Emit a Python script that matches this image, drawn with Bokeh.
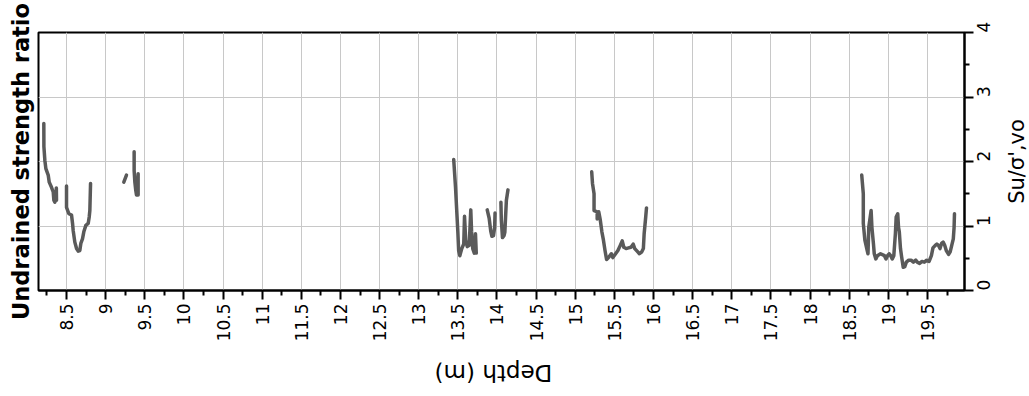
import math
from bokeh.plotting import figure
from bokeh.layouts import column, row
from bokeh.models import Range1d, FixedTicker, CustomJSTickFormatter
from bokeh.core.properties import value
from bokeh.embed import file_html
from bokeh.resources import INLINE

# ---------------- data ----------------
seg1_depth = [8.210, 8.211, 8.223, 8.236, 8.266, 8.279, 8.308, 8.330, 8.338, 8.351, 8.364, 8.370, 8.372]
seg1_su = [2.59, 2.23, 2.02, 1.89, 1.79, 1.68, 1.60, 1.53, 1.40, 1.37, 1.44, 1.59, 1.40]

seg2_depth = [8.500, 8.500, 8.530, 8.564, 8.577, 8.585, 8.606, 8.628, 8.649, 8.670, 8.683,
              8.704, 8.721, 8.747, 8.777, 8.790, 8.798, 8.807]
seg2_su = [1.62, 1.29, 1.19, 1.17, 1.04, 0.93, 0.75, 0.65, 0.61, 0.62, 0.73,
           0.80, 0.91, 1.01, 1.04, 1.14, 1.24, 1.66]

seg3_depth = [9.232, 9.266]
seg3_su = [1.68, 1.79]

seg4_depth = [9.364, 9.364, 9.373, 9.385, 9.394, 9.407, 9.415, 9.415]
seg4_su = [2.15, 1.86, 1.68, 1.55, 1.48, 1.55, 1.81, 1.48]

seg5_depth = [13.447, 13.470, 13.485, 13.500, 13.510, 13.525, 13.550, 13.575, 13.585, 13.600,
              13.620, 13.645, 13.665, 13.675, 13.690, 13.710, 13.720, 13.725, 13.735]
seg5_su = [2.03, 1.60, 1.25, 0.90, 0.62, 0.54, 0.65, 0.72, 1.15, 0.78,
           0.68, 0.70, 1.25, 0.92, 0.65, 0.58, 0.60, 0.88, 0.58]

seg6_depth = [13.875, 13.900, 13.920, 13.935, 13.955, 13.970, 13.975]
seg6_su = [1.25, 1.12, 0.92, 0.84, 0.85, 0.98, 1.20]

seg7_depth = [14.050, 14.055, 14.070, 14.090, 14.100, 14.120, 14.140]
seg7_su = [1.37, 1.10, 0.82, 0.85, 0.90, 1.40, 1.56]

seg8_depth = [15.21, 15.22, 15.24, 15.24, 15.28, 15.28, 15.30, 15.32, 15.34, 15.36, 15.38, 15.40,
              15.43, 15.46, 15.48, 15.515, 15.545, 15.575, 15.60, 15.62, 15.65, 15.68, 15.71,
              15.73, 15.74, 15.76, 15.79, 15.82, 15.85, 15.87, 15.88, 15.90, 15.91]
seg8_su = [1.84, 1.66, 1.50, 1.24, 1.22, 1.11, 1.22, 1.09, 0.91, 0.78, 0.62, 0.48,
           0.52, 0.57, 0.51, 0.57, 0.62, 0.70, 0.77, 0.67, 0.65, 0.66, 0.67,
           0.70, 0.72, 0.65, 0.61, 0.57, 0.60, 0.65, 0.88, 1.14, 1.28]

seg9_depth = [18.66, 18.68, 18.68, 18.70, 18.73, 18.74, 18.75, 18.78, 18.79, 18.81, 18.82, 18.84,
              18.86, 18.90, 18.95, 18.97, 18.99, 19.01, 19.03, 19.05, 19.07, 19.09, 19.10, 19.12,
              19.13, 19.14, 19.155, 19.17, 19.19, 19.21, 19.23, 19.26, 19.29, 19.32, 19.35, 19.37,
              19.40, 19.43, 19.46, 19.49, 19.52, 19.55, 19.57, 19.60, 19.62, 19.64, 19.66, 19.68,
              19.70, 19.72, 19.74, 19.77, 19.79, 19.81, 19.83, 19.84, 19.845]
seg9_su = [1.79, 1.50, 1.04, 0.78, 0.62, 0.57, 0.98, 1.24, 0.98, 0.72, 0.57, 0.49,
           0.54, 0.57, 0.54, 0.49, 0.54, 0.57, 0.54, 0.49, 0.54, 0.88, 1.14, 1.19,
           0.98, 0.91, 0.65, 0.52, 0.36, 0.37, 0.44, 0.47, 0.47, 0.44, 0.47, 0.44,
           0.42, 0.45, 0.44, 0.47, 0.45, 0.54, 0.66, 0.70, 0.72, 0.70, 0.65, 0.73,
           0.75, 0.70, 0.62, 0.56, 0.60, 0.70, 0.80, 0.98, 1.19]

x_tick_values = [8.5, 9, 9.5, 10, 10.5, 11, 11.5, 12, 12.5, 13, 13.5, 14, 14.5, 15, 15.5,
                 16, 16.5, 17, 17.5, 18, 18.5, 19, 19.5]
x_tick_labels = ["8.5", "9", "9.5", "10", "10.5", "11", "11.5", "12", "12.5", "13", "13.5",
                 "14", "14.5", "15", "15.5", "16", "16.5", "17", "17.5", "18", "18.5", "19", "19.5"]
x_minor_values = [8.25, 8.75, 9.25, 9.75, 10.25, 10.75, 11.25, 11.75, 12.25, 12.75, 13.25,
                  13.75, 14.25, 14.75, 15.25, 15.75, 16.25, 16.75, 17.25, 17.75, 18.25, 18.75,
                  19.25, 19.75]
y_tick_values = [0, 1, 2, 3, 4]
y_tick_labels = ["0", "1", "2", "3", "4"]
y_minor_values = [0.5, 1.5, 2.5, 3.5]

depth_range = (8.142, 19.973)
su_range = (0, 4)

title_text = "Undrained strength ratio"
x_label = "Depth (m)"
y_label = "Su/σ',vo"

# ---------------- layout sizes ----------------
FONT = "DejaVu Sans"
FRAME_W, FRAME_H = 926, 258
B_LEFT, B_RIGHT, B_TOP, B_BOTTOM = 30, 40, 32, 62

xr = Range1d(*depth_range)
yr = Range1d(*su_range)

p = figure(frame_width=FRAME_W, frame_height=FRAME_H, output_backend="svg", toolbar_location=None,
           x_range=xr, y_range=yr,
           title=title_text, title_location="left", y_axis_location="right",
           min_border_left=B_LEFT, min_border_right=B_RIGHT,
           min_border_top=B_TOP, min_border_bottom=B_BOTTOM)

p.background_fill_color = "white"
p.border_fill_color = "white"
p.outline_line_color = "black"
p.outline_line_width = 2
p.outline_line_alpha = 1.0

p.title.text_font = FONT
p.title.text_font_size = "22.5px"
p.title.text_font_style = "bold"
p.title.text_color = "black"
p.title.align = "center"

fmt_code = """
let best = -1;
for (let i = 0; i < vals.length; i++) { if (Math.abs(vals[i] - tick) < 1e-6) { best = i; } }
return best >= 0 ? labels[best] : '';
"""

xa = p.xaxis[0]
ya = p.yaxis[0]
xa.ticker = FixedTicker(ticks=x_tick_values, minor_ticks=x_minor_values)
xa.formatter = CustomJSTickFormatter(args=dict(vals=x_tick_values, labels=x_tick_labels), code=fmt_code)
ya.ticker = FixedTicker(ticks=y_tick_values, minor_ticks=y_minor_values)
ya.formatter = CustomJSTickFormatter(args=dict(vals=y_tick_values, labels=y_tick_labels), code=fmt_code)

for ax in (xa, ya):
    ax.axis_line_color = "black"
    ax.axis_line_width = 2
    ax.major_tick_line_color = "black"
    ax.major_tick_line_width = 2
    ax.minor_tick_line_color = "black"
    ax.minor_tick_line_width = 2
    ax.major_tick_in = 0
    ax.minor_tick_in = 0
    ax.major_tick_out = 9
    ax.minor_tick_out = 5
    ax.major_label_text_font = FONT
    ax.major_label_text_font_size = "17px"
    ax.major_label_text_color = "black"

xa.major_label_orientation = math.pi / 2
xa.major_label_standoff = 4
ya.major_label_orientation = math.pi / 2
ya.major_label_standoff = 10

for g in (p.xgrid[0], p.ygrid[0]):
    g.grid_line_color = "#c8c8c8"
    g.grid_line_width = 1

xs = [seg1_depth, seg2_depth, seg3_depth, seg4_depth, seg5_depth, seg6_depth,
      seg7_depth, seg8_depth, seg9_depth]
ys = [seg1_su, seg2_su, seg3_su, seg4_su, seg5_su, seg6_su, seg7_su, seg8_su, seg9_su]
p.multi_line(xs=xs, ys=ys, line_color="#5a5a5a", line_width=3.5,
             line_cap="round", line_join="round")


def blank(**kw):
    f = figure(output_backend="svg", toolbar_location=None, **kw)
    f.axis.visible = False
    f.grid.visible = False
    f.outline_line_color = None
    f.background_fill_color = "white"
    f.border_fill_color = "white"
    return f


# right-hand axis title (reads bottom to top), aligned with the plot frame
RIGHT_W = 24
right_fig = blank(frame_width=RIGHT_W, frame_height=FRAME_H, x_range=Range1d(0, RIGHT_W), y_range=yr,
                  min_border_left=0, min_border_right=0, min_border_top=B_TOP, min_border_bottom=B_BOTTOM)
right_fig.text(x=[RIGHT_W / 2], y=[(su_range[0] + su_range[1]) / 2], text=[y_label], angle=math.pi / 2,
               text_align="center", text_baseline="middle", text_font=value(FONT),
               text_font_size="21px", text_color="black")

# bottom axis title (upside down), centred under the frame
BOTTOM_H = 40
bottom_fig = blank(frame_width=FRAME_W, frame_height=BOTTOM_H, x_range=xr, y_range=Range1d(0, 1),
                   min_border_left=B_LEFT, min_border_right=B_RIGHT, min_border_top=0, min_border_bottom=0)
bottom_fig.text(x=[(depth_range[0] + depth_range[1]) / 2], y=[0.5], text=[x_label], angle=math.pi,
                text_align="center", text_baseline="middle", text_font=value(FONT),
                text_font_size="23px", text_color="black")

layout = column(row(p, right_fig), bottom_fig)

open("out.html", "w").write(file_html(layout, INLINE))
